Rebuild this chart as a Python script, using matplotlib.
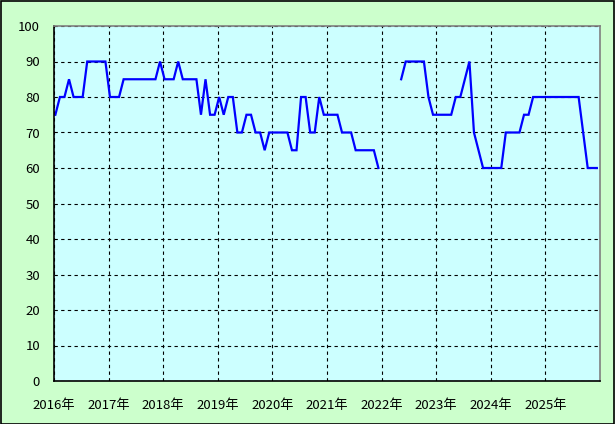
import numpy as np
import matplotlib
matplotlib.use("Agg")
import matplotlib.pyplot as plt
from matplotlib.patches import Rectangle

plt.rcParams['font.family'] = ['Noto Sans CJK JP', 'DejaVu Sans']

nan = np.nan
v2016 = [75, 80, 80, 85, 80, 80, 80, 90, 90, 90, 90, 90]
v2017 = [80, 80, 80, 85, 85, 85, 85, 85, 85, 85, 85, 90]
v2018 = [85, 85, 85, 90, 85, 85, 85, 85, 75, 85, 75, 75]
v2019 = [80, 75, 80, 80, 70, 70, 75, 75, 70, 70, 65, 70]
v2020 = [70, 70, 70, 70, 65, 65, 80, 80, 70, 70, 80, 75]
v2021 = [75, 75, 75, 70, 70, 70, 65, 65, 65, 65, 65, 60]
v2022 = [nan, nan, nan, nan, 85, 90, 90, 90, 90, 90, 80, 75]
v2023 = [75, 75, 75, 75, 80, 80, 85, 90, 70, 65, 60, 60]
v2024 = [60, 60, 60, 70, 70, 70, 70, 75, 75, 80, 80, 80]
v2025 = [80, 80, 80, 80, 80, 80, 80, 80, 70, 60, 60, 60]

years = list(range(2016, 2026))
year_labels = [f"{y}年" for y in years]
values = np.array(v2016 + v2017 + v2018 + v2019 + v2020 + v2021 + v2022 + v2023 + v2024 + v2025, dtype=float)
x = 2016 + (np.arange(len(values)) + 0.3) / 12.0

fig = plt.figure(figsize=(6.15, 4.24), dpi=100)
fig.patch.set_facecolor('#CCFFCC')
ax = fig.add_axes([54/615, 1-381/424, (600-54)/615, (381-26)/424])
ax.set_facecolor('#CCFFFF')

ax.plot(x, values, color='#0000FF', lw=1.6, solid_joinstyle='miter')

ax.set_xlim(2016, 2026)
ax.set_ylim(0, 100)
ax.set_xticks(years)
ax.set_xticklabels(year_labels)
ax.set_yticks(range(0, 101, 10))
ax.tick_params(axis='both', length=0, labelsize=9.5, colors='black')
ax.tick_params(axis='y', pad=10)
ax.tick_params(axis='x', pad=13)
ax.grid(True, color='black', linestyle=(0, (3, 3)), lw=0.8)

for s in ['left', 'bottom']:
    ax.spines[s].set_color('black')
    ax.spines[s].set_linewidth(1.2)
for s in ['top', 'right']:
    ax.spines[s].set_color('#808080')
    ax.spines[s].set_linewidth(1.2)

fig.add_artist(Rectangle((0.5/615, 0.5/424), 1 - 1.5/615, 1 - 1.5/424, transform=fig.transFigure,
                         fill=False, edgecolor='black', lw=1.2))

fig.savefig('out.png', dpi=100, facecolor=fig.get_facecolor())
